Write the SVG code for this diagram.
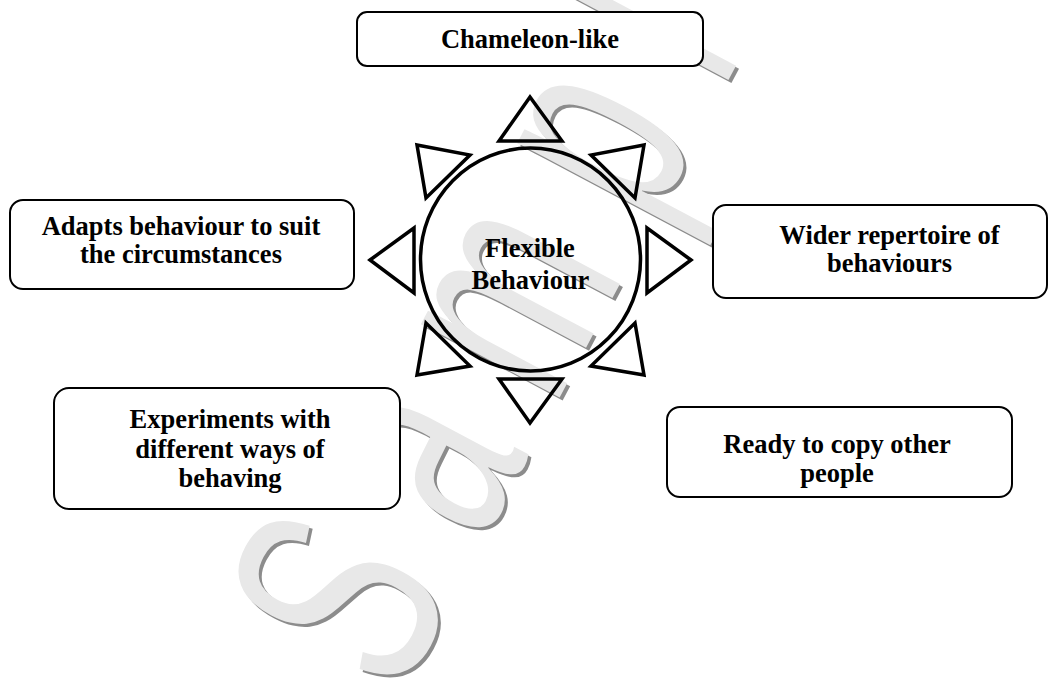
<svg xmlns="http://www.w3.org/2000/svg" width="1050" height="681" viewBox="0 0 1050 681">
  <style>
    .box { fill: #ffffff; stroke: #000000; stroke-width: 2; }
    .lbl { font-family: "Liberation Serif", "Times New Roman", serif; font-weight: bold; font-size: 26.5px; fill: #000000; text-anchor: middle; }
    .ray { fill: none; stroke: #000000; stroke-width: 3.5; stroke-linejoin: miter; }
    .hub { fill: none; stroke: #000000; stroke-width: 3.5; }
    .wm { font-family: "Liberation Sans", Arial, sans-serif; font-size: 297px; letter-spacing: 84px; }
  </style>
  <rect width="1050" height="681" fill="#ffffff"/>

  <g id="watermark">
    <text class="wm" fill="#8c8c8c" transform="translate(402,702.5) rotate(-62) scale(0.62,1)">Sample</text>
    <text class="wm" fill="#e8e8e8" transform="translate(399,699.5) rotate(-62) scale(0.62,1)">Sample</text>
  </g>

  <g id="connectors">
    <polygon class="ray" points="530,97 499,141 562,141"/>
    <polygon class="ray" points="499,379 562,379 530,423"/>
    <polygon class="ray" points="370,260 414,228 414,293"/>
    <polygon class="ray" points="691,260 647,228 647,293"/>
    <polygon class="ray" points="417,145 470,155 426,198"/>
    <polygon class="ray" points="644,145 591,155 635,198"/>
    <polygon class="ray" points="417,375 470,366 426,323"/>
    <polygon class="ray" points="644,375 591,366 635,323"/>
  </g>

  <g id="node-center">
    <ellipse class="hub" cx="530.5" cy="259.5" rx="110" ry="111.5"/>
    <text class="lbl" x="530" y="256.5">Flexible</text>
    <text class="lbl" x="530.5" y="289">Behaviour</text>
  </g>

  <g id="node-chameleon">
    <rect class="box" x="357" y="12" width="346" height="54" rx="10"/>
    <text class="lbl" x="530" y="48">Chameleon-like</text>
  </g>

  <g id="node-adapts">
    <rect class="box" x="10" y="200" width="344" height="89" rx="13"/>
    <text class="lbl" x="181" y="235">Adapts behaviour to suit</text>
    <text class="lbl" x="181" y="263">the circumstances</text>
  </g>

  <g id="node-wider">
    <rect class="box" x="713" y="205" width="334" height="93" rx="13"/>
    <text class="lbl" x="889.5" y="244">Wider repertoire of</text>
    <text class="lbl" x="889.5" y="272">behaviours</text>
  </g>

  <g id="node-experiments">
    <rect class="box" x="54" y="388" width="346" height="121" rx="15"/>
    <text class="lbl" x="230" y="428">Experiments with</text>
    <text class="lbl" x="230" y="458">different ways of</text>
    <text class="lbl" x="230" y="487">behaving</text>
  </g>

  <g id="node-ready">
    <rect class="box" x="667" y="407" width="345" height="90" rx="13"/>
    <text class="lbl" x="837" y="453">Ready to copy other</text>
    <text class="lbl" x="837" y="482">people</text>
  </g>
</svg>
